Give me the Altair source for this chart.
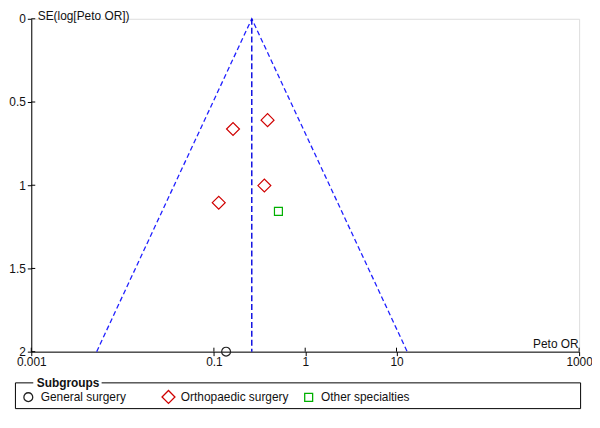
import altair as alt
import pandas as pd

# ---- data ----
subgroups = ["Orthopaedic surgery", "Orthopaedic surgery", "Orthopaedic surgery",
             "Orthopaedic surgery", "Other specialties", "General surgery"]
peto_or = [0.162, 0.387, 0.357, 0.113, 0.509, 0.136]
se_log = [0.662, 0.609, 1.002, 1.105, 1.157, 2.0]

pooled_or = 0.26
funnel_or = [0.0052, 0.26, 13.1]
funnel_se = [2.0, 0.0, 2.0]

x_ticks = [0.001, 0.1, 1, 10, 1000]
y_ticks = [0, 0.5, 1, 1.5, 2]

group_order = ["General surgery", "Orthopaedic surgery", "Other specialties"]
group_shapes = ["circle", "diamond", "square"]
group_colors = ["#222222", "#d00000", "#00b000"]
group_sizes = [80, 170, 64]

FONT = "Liberation Sans"
TXT = "#111111"
W, H = 553, 336

pts = pd.DataFrame({"group": subgroups, "or": peto_or, "se": se_log})
funnel = pd.DataFrame({"or": funnel_or, "se": funnel_se, "i": [0, 1, 2]})
pooled = pd.DataFrame({"or": [pooled_or], "se0": [0.0], "se1": [2.0]})
xt = pd.DataFrame({"or": x_ticks})
yt = pd.DataFrame({"se": y_ticks})

xscale = alt.Scale(type="log", domain=[0.001, 1000], nice=False)
yscale = alt.Scale(domain=[0, 2], reverse=True, nice=False, zero=False)

xaxis = alt.Axis(values=x_ticks, format="~g", grid=False, title="Peto OR",
                 titleAlign="right", titleAnchor="end", titleX=W - 1, titleY=-4,
                 titleBaseline="alphabetic", titleFontWeight="normal",
                 titleFont=FONT, titleFontSize=12, titleColor=TXT,
                 labelFont=FONT, labelFontSize=12, labelColor=TXT,
                 tickSize=4, labelPadding=1, domainColor="black", tickColor="black",
                 labelFlush=False, labelOverlap=False)
yaxis = alt.Axis(values=y_ticks, format="~g", grid=False, title="SE(log[Peto OR])",
                 titleAngle=0, titleAlign="left", titleX=6, titleY=-8,
                 titleBaseline="top", titleFontWeight="normal",
                 titleFont=FONT, titleFontSize=12, titleColor=TXT,
                 labelFont=FONT, labelFontSize=12, labelColor=TXT,
                 tickSize=4, labelPadding=2, domainColor="black", tickColor="black",
                 labelFlush=False, labelOverlap=False)

base_x = alt.X("or:Q", scale=xscale, axis=xaxis)
base_y = alt.Y("se:Q", scale=yscale, axis=yaxis)

funnel_line = alt.Chart(funnel).mark_line(
    color="#2020ff", strokeWidth=1.3, strokeDash=[5, 3]
).encode(x=base_x, y=base_y, order="i:Q")

pooled_line = alt.Chart(pooled).mark_rule(
    color="#0000e0", strokeWidth=1.4, strokeDash=[6, 3]
).encode(x=alt.X("or:Q", scale=xscale), y=alt.Y("se0:Q", scale=yscale), y2="se1:Q")

legend = alt.Legend(orient="none", legendX=-10.5, legendY=374, direction="horizontal",
                    columns=3, gridAlign="all", columnPadding=10.5, title=None,
                    labelFont=FONT, labelFontSize=12, labelColor=TXT, labelOffset=5,
                    symbolSize=130, symbolStrokeWidth=1.3, symbolFillColor="white",
                    padding=0)

points = alt.Chart(pts).mark_point(filled=False, strokeWidth=1.2, opacity=1).encode(
    x=alt.X("or:Q", scale=xscale),
    y=alt.Y("se:Q", scale=yscale),
    shape=alt.Shape("group:N", scale=alt.Scale(domain=group_order, range=group_shapes),
                    legend=legend, title=None),
    color=alt.Color("group:N", scale=alt.Scale(domain=group_order, range=group_colors),
                    legend=legend, title=None),
    size=alt.Size("group:N", scale=alt.Scale(type="ordinal", domain=group_order,
                                             range=group_sizes),
                  legend=None),
)

xtick_in = alt.Chart(xt).mark_rule(color="black").encode(
    x=alt.X("or:Q", scale=xscale), y=alt.value(H - 4), y2=alt.value(H))
ytick_in = alt.Chart(yt).mark_rule(color="black").encode(
    y=alt.Y("se:Q", scale=yscale), x=alt.value(0), x2=alt.value(4))

# legend frame and title
frame = alt.Chart(pd.DataFrame({"k": [0]})).mark_rect(
    fill=None, stroke="black", strokeWidth=1).encode(
    x=alt.value(-16), x2=alt.value(554.5), y=alt.value(367.5), y2=alt.value(393.5))
title_bg = alt.Chart(pd.DataFrame({"k": [0]})).mark_rect(fill="white").encode(
    x=alt.value(2), x2=alt.value(71), y=alt.value(362), y2=alt.value(373))
title_txt = alt.Chart(pd.DataFrame({"t": ["Subgroups"]})).mark_text(
    font=FONT, fontSize=12, fontWeight="bold", color=TXT, align="left",
    baseline="middle").encode(text="t:N", x=alt.value(5.5), y=alt.value(367.5))

chart = alt.layer(
    funnel_line, pooled_line, xtick_in, ytick_in, points, frame, title_bg, title_txt
).properties(
    width=W, height=H,
    autosize=alt.AutoSizeParams(type="none"),
    padding={"left": 23.5, "top": 9, "right": 13, "bottom": 57},
).configure_view(stroke=None).configure(background="white")

chart.save("out.html", embed_options={"renderer": "svg", "actions": False})
